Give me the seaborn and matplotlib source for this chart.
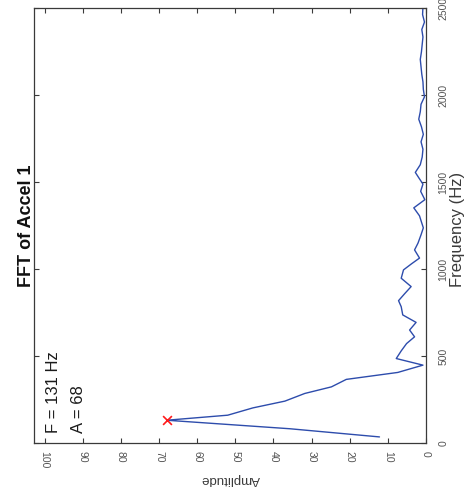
import numpy as np
import pandas as pd
import matplotlib
matplotlib.use('Agg')
import matplotlib.pyplot as plt
import seaborn as sns

# ============================================
# Data read off the (rotated) FFT plot
# ============================================
FREQ_HZ = [35, 82, 131, 160, 202, 241, 285, 323, 366, 406,
           448, 486, 530, 572, 611, 650, 694, 737, 784, 819,
           859, 900, 948, 996, 1031, 1064, 1111, 1150, 1198, 1238,
           1272, 1307, 1353, 1400, 1448, 1490, 1523, 1557, 1601, 1645,
           1690, 1733, 1776, 1820, 1863, 1906, 1949, 1992, 2035, 2078,
           2121, 2164, 2207, 2250, 2293, 2336, 2379, 2422, 2465, 2508]
AMPLITUDE = [12.2, 35.7, 68.0, 52.0, 45.4, 37.0, 31.8, 24.8, 20.9, 7.4,
             0.8, 7.8, 6.5, 5.1, 3.0, 4.3, 2.6, 6.1, 6.5, 7.2,
             5.6, 3.9, 6.5, 5.9, 3.8, 1.7, 3.0, 2.1, 1.3, 0.7,
             1.2, 1.7, 3.2, 0.3, 1.4, 0.8, 1.8, 2.8, 1.5, 1.0,
             0.8, 1.3, 0.7, 1.2, 1.9, 1.5, 1.3, 0.4, 0.7, 0.8,
             1.1, 1.3, 1.5, 1.2, 1.0, 0.8, 1.1, 0.4, 0.9, 0.8]

PEAK_F = 131
PEAK_A = 68

AMP_TICKS = [0, 10, 20, 30, 40, 50, 60, 70, 80, 90, 100]
FREQ_TICKS = [0, 500, 1000, 1500, 2000, 2500]

TITLE = 'FFT of Accel 1'
W, H = 465, 493

sns.set_style('white')
plt.rcParams['font.family'] = ['Liberation Sans', 'DejaVu Sans']

df = pd.DataFrame({'freq': FREQ_HZ, 'amp': AMPLITUDE})
peak = pd.DataFrame({'freq': [PEAK_F], 'amp': [PEAK_A]})

fig = plt.figure(figsize=(W / 100, H / 100), dpi=100)
fig.patch.set_facecolor('white')
ax = fig.add_axes([34 / W, 1 - 443 / H, (426 - 34) / W, (443 - 8.5) / H])

# whole figure is turned 90 degrees: amplitude runs right->left, frequency bottom->top
sns.lineplot(data=df, x='amp', y='freq', sort=False, estimator=None, orient='y',
             color='#2D4CAC', linewidth=1.0, ax=ax)
sns.scatterplot(data=peak, x='amp', y='freq', marker='x', color='#FF1A1A',
                s=40, linewidth=1.2, ax=ax, zorder=5)

ax.set_xlim(102.8, 0)
ax.set_ylim(0, 2500)
ax.set_xticks(AMP_TICKS)
ax.set_yticks(FREQ_TICKS)
ax.set_xlabel('')
ax.set_ylabel('')

edge = '#3a3a3a'
for sp in ax.spines.values():
    sp.set_visible(True)
    sp.set_color(edge)
    sp.set_linewidth(0.9)

ax.tick_params(axis='both', direction='in', length=3.5, width=0.8, color=edge,
               labelcolor='#555555', labelsize=7.5)
ax.tick_params(axis='x', bottom=True, top=True, labelbottom=True, labeltop=False,
               pad=6, labelrotation=-90)
ax.tick_params(axis='y', left=True, right=True, labelleft=False, labelright=True,
               pad=9, labelrotation=90)
for lab in ax.get_yticklabels():
    lab.set_verticalalignment('center')

# annotation of the peak
ax.text(97.8, 56, f'F = {PEAK_F} Hz', rotation=90, ha='center', va='bottom',
        fontsize=12, color='#1a1a1a')
ax.text(91.0, 56, f'A = {PEAK_A}', rotation=90, ha='center', va='bottom',
        fontsize=12, color='#1a1a1a')

fig.text(26.5 / W, 1 - 226 / H, TITLE, rotation=90, ha='center', va='center',
         fontsize=13, fontweight='bold', color='#111111')
fig.text(457 / W, 1 - 229 / H, 'Frequency (Hz)', rotation=90, ha='center', va='center',
         fontsize=12, color='#3a3a3a')
fig.text(230 / W, 1 - 479 / H, 'Amplitude', rotation=180, ha='center', va='center',
         fontsize=9.5, color='#3a3a3a')

fig.savefig('out.png', dpi=100, facecolor='white')
